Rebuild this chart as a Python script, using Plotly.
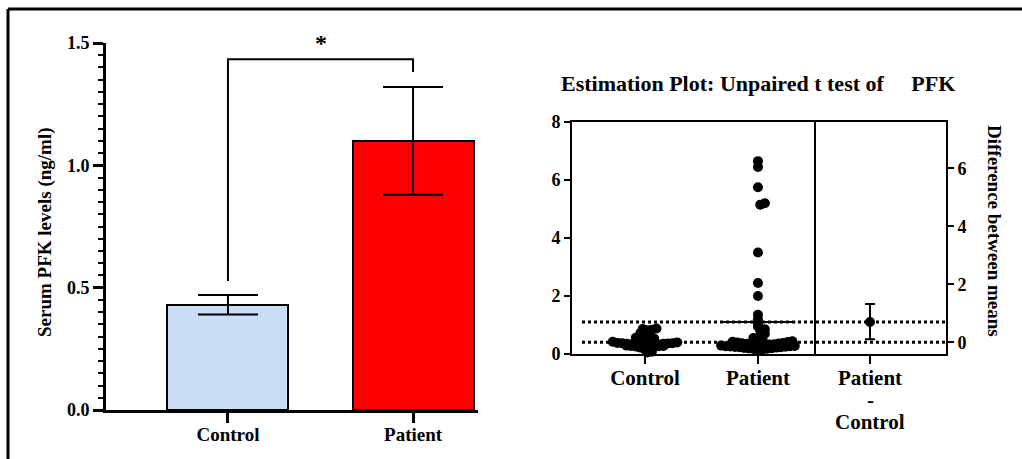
import numpy as np
import plotly.graph_objects as go

# ---- data -------------------------------------------------------------
groups = ["Control", "Patient"]
bar_means = [0.43, 1.10]
bar_sem = [0.04, 0.22]
bar_colors = ["#C9DDF5", "#FF0000"]

control_values = [0.05, 0.08, 0.16, 0.18, 0.22, 0.25, 0.26, 0.27, 0.28, 0.28,
                  0.29, 0.30, 0.31, 0.31, 0.32, 0.33, 0.33, 0.34, 0.35, 0.35,
                  0.36, 0.37, 0.37, 0.38, 0.40, 0.42, 0.45, 0.48, 0.50, 0.53,
                  0.56, 0.60, 0.68, 0.72, 0.82, 0.84, 0.86, 0.88]
patient_values = [0.15, 0.16, 0.17, 0.18, 0.19, 0.20, 0.21, 0.22, 0.23, 0.23,
                  0.24, 0.25, 0.26, 0.27, 0.27, 0.28, 0.29, 0.30, 0.31, 0.32,
                  0.33, 0.33, 0.34, 0.35, 0.36, 0.37, 0.38, 0.40, 0.41, 0.42,
                  0.44, 0.46, 0.50, 0.55, 0.62, 0.70, 0.80, 0.85, 0.95, 1.05,
                  1.20, 1.35, 2.00, 2.45, 3.50, 5.15, 5.20, 5.75, 6.45, 6.65]
diff_label_lines = ["Patient", "-", "Control"]
diff_ci = [0.10, 1.32]

W, H = 1022, 459
FONT = "Liberation Serif, Times New Roman, DejaVu Serif, serif"


def px(x):
    return x / W


def py(y):
    return 1 - y / H


def binned_swarm(values, bin_h, spacing_px, xpx_per_unit):
    """Column-scatter layout: points sharing a y-bin are spread side by side,
    filling outward from the centre line."""
    vals = np.asarray(values, dtype=float)
    offs = np.zeros(len(vals))
    bins = np.floor(vals / bin_h).astype(int)
    for b in np.unique(bins):
        idx = np.where(bins == b)[0]
        idx = idx[np.argsort(vals[idx])]
        n = len(idx)
        for j, k in enumerate(idx):
            slot = (j + 1) // 2 * (1 if j % 2 else -1)
            shift = 0.0 if n % 2 else 0.5
            offs[k] = (slot + shift) * spacing_px / xpx_per_unit
    return offs


fig = go.Figure()

# ---- left panel: bar chart with SEM ------------------------------------
fig.add_trace(go.Bar(
    x=[0, 1], y=bar_means, width=0.654,
    marker=dict(color=bar_colors, line=dict(color="black", width=2)),
    error_y=dict(type="data", array=bar_sem, color="black", thickness=2, width=30),
    xaxis="x", yaxis="y", showlegend=False,
))

# ---- right panel: estimation plot --------------------------------------
x2_unit = 113.0   # px per category on the swarm panel
dot = 10
ctrl = np.array(control_values)
pat = np.array(patient_values)
ctrl_mean = float(ctrl.mean())
pat_mean = float(pat.mean())
diff_mean = pat_mean - ctrl_mean

for i, vals in enumerate([ctrl, pat]):
    offs = binned_swarm(vals, 0.15, 4.6, x2_unit)
    fig.add_trace(go.Scatter(
        x=i + offs, y=vals, mode="markers",
        marker=dict(color="black", size=dot),
        xaxis="x2", yaxis="y2", showlegend=False, cliponaxis=False,
    ))

fig.add_trace(go.Scatter(
    x=[0], y=[diff_mean], mode="markers",
    marker=dict(color="black", size=10),
    error_y=dict(type="data", symmetric=False,
                 array=[diff_ci[1] - diff_mean], arrayminus=[diff_mean - diff_ci[0]],
                 color="black", thickness=2, width=5),
    xaxis="x3", yaxis="y3", showlegend=False,
))

shapes = []
# outer frame (top and left edges)
shapes.append(dict(type="line", xref="paper", yref="paper", x0=px(8), x1=1.0,
                   y0=py(9), y1=py(9), line=dict(color="black", width=3)))
shapes.append(dict(type="line", xref="paper", yref="paper", x0=px(8), x1=px(8),
                   y0=py(9), y1=0.0, line=dict(color="black", width=3)))
# significance bracket
shapes.append(dict(type="path", xref="x", yref="y",
                   path="M 0 0.527 L 0 1.434 L 1 1.434 L 1 1.381",
                   line=dict(color="black", width=2)))
# mean reference lines across the estimation plot
for m in [pat_mean, ctrl_mean]:
    shapes.append(dict(type="line", xref="paper", yref="y2", x0=px(582), x1=px(946),
                       y0=m, y1=m, line=dict(color="black", width=3, dash="dot")))
# group mean bars on the swarm
for i, m in enumerate([ctrl_mean, pat_mean]):
    shapes.append(dict(type="line", xref="x2", yref="y2", x0=i - 0.33, x1=i + 0.33,
                       y0=m, y1=m, line=dict(color="black", width=2)))

annotations = [
    dict(text="<b>*</b>", x=0.5, y=1.5, xref="x", yref="y", showarrow=False,
         font=dict(family=FONT, size=24, color="black"), xanchor="center", yanchor="middle"),
    dict(text="<b>Serum PFK levels (ng/ml)</b>", textangle=-90, x=px(45), y=py(232),
         xref="paper", yref="paper", showarrow=False, font=dict(family=FONT, size=19, color="black"),
         xanchor="center", yanchor="middle"),
    dict(text="<b>Estimation Plot: Unpaired t test of\u00a0\u00a0\u00a0\u00a0\u00a0PFK</b>",
         x=px(758), y=py(83), xref="paper", yref="paper", showarrow=False,
         font=dict(family=FONT, size=22, color="black"), xanchor="center", yanchor="middle"),
    dict(text="<b>Difference between means</b>", textangle=90, x=px(995), y=py(231),
         xref="paper", yref="paper", showarrow=False, font=dict(family=FONT, size=19, color="black"),
         xanchor="center", yanchor="middle"),
]
# lower lines of the difference-axis category label
for line_text, ypix in zip(diff_label_lines[1:], [400, 422]):
    annotations.append(dict(text=f"<b>{line_text}</b>", x=0, y=py(ypix), xref="x3", yref="paper",
                            showarrow=False, font=dict(family=FONT, size=21, color="black"),
                            xanchor="center", yanchor="middle"))

axis_common = dict(showgrid=False, zeroline=False, automargin=False, tickcolor="black",
                   linecolor="black", showline=True, ticks="outside")

fig.update_layout(
    template="none",
    width=W, height=H, margin=dict(l=0, r=0, t=0, b=0, pad=0),
    paper_bgcolor="white", plot_bgcolor="white",
    bargap=0, showlegend=False,
    shapes=shapes, annotations=annotations,
    xaxis=dict(domain=[px(106), px(478)], range=[-0.659, 1.351],
               tickvals=[0, 1], ticktext=[f"<b>{g}</b>" for g in groups],
               ticklen=10, tickwidth=3, linewidth=3, ticklabelstandoff=-5,
               tickfont=dict(family=FONT, size=19, color="black"),
               anchor="y", **axis_common),
    yaxis=dict(domain=[py(410), py(43)], range=[0, 1.5],
               tickvals=[0, 0.5, 1.0, 1.5], ticktext=["<b>0.0</b>", "<b>0.5</b>", "<b>1.0</b>", "<b>1.5</b>"],
               ticklen=10, tickwidth=3, linewidth=3,
               minor=dict(dtick=0.05, ticks="outside", ticklen=5, tickwidth=2, tickcolor="black"),
               tickfont=dict(family=FONT, size=18, color="black"),
               anchor="x", **axis_common),
    xaxis2=dict(domain=[px(572), px(814)], range=[-0.646, 1.496],
                tickvals=[0, 1], ticktext=[f"<b>{g}</b>" for g in groups],
                ticklen=8, tickwidth=2, linewidth=2, mirror=True, ticklabelstandoff=-4,
                tickfont=dict(family=FONT, size=21, color="black"), anchor="y2", **axis_common),
    yaxis2=dict(domain=[py(354), py(122)], range=[0, 8],
                tickvals=[0, 2, 4, 6, 8], ticktext=["<b>0</b>", "<b>2</b>", "<b>4</b>", "<b>6</b>", "<b>8</b>"],
                ticklen=6, tickwidth=2, linewidth=2, mirror=True,
                tickfont=dict(family=FONT, size=18, color="black"), anchor="x2", **axis_common),
    xaxis3=dict(domain=[px(814), px(946)], range=[-0.56, 0.76],
                tickvals=[0], ticktext=[f"<b>{diff_label_lines[0]}</b>"],
                ticklen=8, tickwidth=2, linewidth=2, mirror=True, ticklabelstandoff=-4,
                tickfont=dict(family=FONT, size=21, color="black"), anchor="y3", **axis_common),
    yaxis3=dict(domain=[py(354), py(122)], range=[-ctrl_mean, 8 - ctrl_mean],
                side="right", tickvals=[0, 2, 4, 6],
                ticktext=["<b>0</b>", "<b>2</b>", "<b>4</b>", "<b>6</b>"],
                ticklen=6, tickwidth=2, linewidth=2,
                tickfont=dict(family=FONT, size=18, color="black"), anchor="x3", **axis_common),
)

fig.write_html("out.html")
